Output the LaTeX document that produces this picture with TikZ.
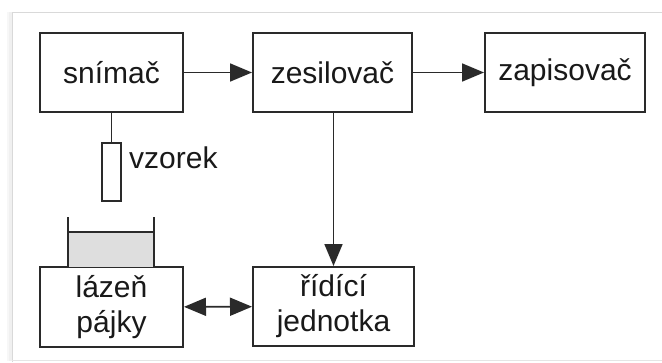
\documentclass[tikz,border=0pt]{standalone}
\usepackage{fontspec}
\setmainfont{Liberation Sans}
\usetikzlibrary{arrows.meta,calc}
\definecolor{ln}{HTML}{2A2A2A}
\begin{document}
\begin{tikzpicture}[x=1pt,y=-1pt,
  blk/.style={draw=ln,line width=2pt,fill=white,inner sep=0pt,align=center,
    font=\fontsize{30}{35}\selectfont,text=black!90,minimum height=79pt},
  conn/.style={draw=ln,line width=1.8pt},
  arr/.style={conn,-{Triangle[length=22pt,width=18pt]}},
  darr/.style={conn,{Triangle[length=22pt,width=18pt]}-{Triangle[length=22pt,width=18pt]}}]
\useasboundingbox (0,0) rectangle (662,362);
% frame with slight shadow
\fill[black!6] (9,12) rectangle (12,361);
\fill[black!3] (7,12) rectangle (9,361);
\draw[black!15,line width=1pt] (12,362) -- (12,12) -- (670,12);
\draw[black!10,line width=1.5pt] (12,360.5) -- (670,360.5);
% blocks
\node[blk,minimum width=143pt] (snimac) at (111.5,72.5) {snímač};
\node[blk,minimum width=159pt] (zesil) at (332.5,72.5) {zesilovač};
\node[blk,minimum width=160pt] (zapis) at (565,72.5) {zapisovač};
\node[blk,minimum width=143pt,minimum height=80pt] (lazen) at (111.5,307) {lázeň\\pájky};
\node[blk,minimum width=161pt] (ridici) at (333.5,306.5) {řídící\\jednotka};
% sample
\node[draw=ln,line width=1.6pt,fill=white,minimum width=19pt,minimum height=58pt,inner sep=0pt] (vzorek) at (111.5,172) {};
\node[anchor=west,inner sep=0pt,text=black!90,font=\fontsize{30}{35}\selectfont] (vzlbl) at (129,158) {vzorek};
\draw[conn] (snimac.south -| vzorek.north) -- (vzorek.north);
% bath
\fill[black!13] (68,232) rectangle (154,267);
\draw[conn] (68,217) -- (68,267);
\draw[conn] (154,217) -- (154,267);
\draw[conn] (68,232) -- (154,232);
% connectors
\draw[arr] (snimac) -- (zesil);
\draw[arr] (zesil) -- (zapis);
\draw[arr] (ridici.north |- zesil.south) -- (ridici.north);
\draw[darr] (lazen) -- (ridici);
\end{tikzpicture}
\end{document}
